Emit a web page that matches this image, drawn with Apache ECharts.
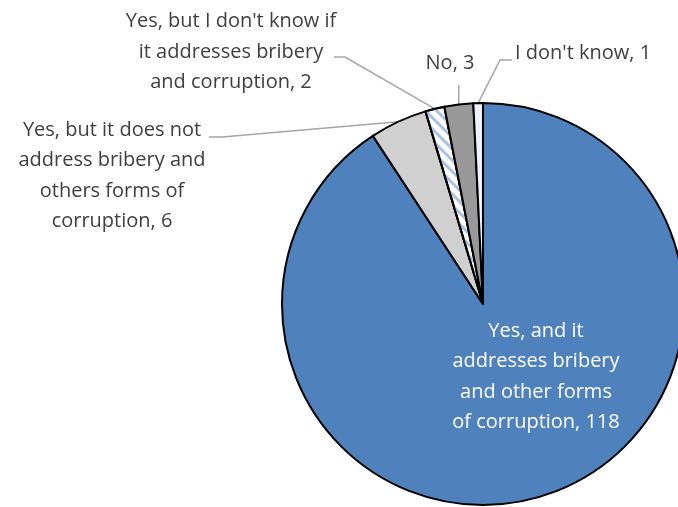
<!DOCTYPE html>
<html>
<head>
<meta charset="utf-8">
<script src="https://cdn.jsdelivr.net/npm/echarts@6/dist/echarts.min.js"></script>
<style>html,body{margin:0;padding:0;background:#fff}#c{width:678px;height:507px}</style>
</head>
<body>
<div id="c"></div>
<script>
const categories = [
  "Yes, and it addresses bribery and other forms of corruption",
  "Yes, but it does not address bribery and others forms of corruption",
  "Yes, but I don't know if it addresses bribery and corruption",
  "No",
  "I don't know"
];
const wrappedNames = [
  "Yes, and it\naddresses bribery\nand other forms\nof corruption",
  "Yes, but it does not\naddress bribery and\nothers forms of\ncorruption",
  "Yes, but I don't know if\nit addresses bribery\nand corruption",
  "No",
  "I don't know"
];
const values = [118, 6, 2, 3, 1];
const colors = ['#4F81BD', '#D0D0D0', '#FFFFFF', '#999999', '#EEF2F8'];

const chart = echarts.init(document.getElementById('c'), null, {renderer: 'canvas'});

// label anchor placement (label layout only)
const labelPos = [
  {x: 536, y: 377, align: 'center', verticalAlign: 'middle'},
  {x: 112, y: 176, align: 'center', verticalAlign: 'middle', end: [209, 137], knee: [222, 137]},
  {x: 231, y: 52, align: 'center', verticalAlign: 'middle', end: [334, 57], knee: [345, 57]},
  {x: 450, y: 63, align: 'center', verticalAlign: 'middle', end: null, knee: null},
  {x: 515, y: 53, align: 'left', verticalAlign: 'middle', end: [512, 60], knee: [500, 60]}
];

chart.setOption({
  animation: false,
  series: [{
    type: 'pie',
    center: [483, 304],
    radius: 201,
    startAngle: 90,
    clockwise: true,
    avoidLabelOverlap: false,
    data: values.map((v, i) => ({
      name: categories[i],
      value: v,
      itemStyle: Object.assign({color: colors[i]}, i === 2 ? {
        decal: {
          symbol: 'rect',
          symbolSize: 1,
          dashArrayX: [1, 0],
          dashArrayY: [3, 5],
          rotation: Math.PI / 4,
          color: '#A9C2E6'
        }
      } : {}),
      label: i === 0 ? {color: '#FFFFFF'} : {}
    })),
    itemStyle: {borderColor: '#000', borderWidth: 2},
    label: {
      show: true,
      position: 'outside',
      fontFamily: 'Open Sans',
      fontSize: 20,
      lineHeight: 30.5,
      color: '#404040',
      align: 'center',
      formatter: p => wrappedNames[p.dataIndex] + ', ' + p.value
    },
    labelLine: {
      show: true,
      length: 10,
      length2: 10,
      lineStyle: {color: '#A6A6A6', width: 1.5}
    },
    emphasis: {disabled: true},
    labelLayout: function (params) {
      const i = params.dataIndex;
      const lp = labelPos[i];
      const out = {x: lp.x, y: lp.y, align: lp.align, verticalAlign: lp.verticalAlign};
      const pts = params.labelLinePoints;
      if (i > 0 && pts) {
        const s = pts[0];
        if (lp.end) {
          out.labelLinePoints = [s, lp.knee, lp.end];
        } else {
          out.labelLinePoints = [s, [s[0], 85], [s[0], 85]];
        }
      }
      return out;
    }
  }]
});
</script>
</body>
</html>
